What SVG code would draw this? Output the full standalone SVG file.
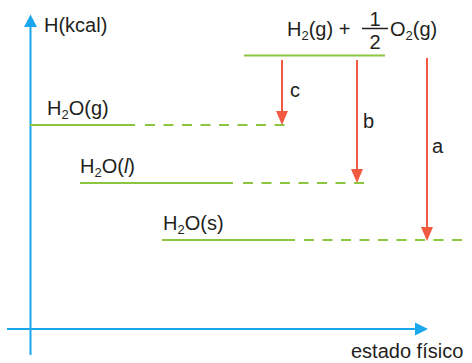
<svg xmlns="http://www.w3.org/2000/svg" width="472" height="363" viewBox="0 0 472 363">
<style>
text{font-family:"Liberation Sans",Arial,sans-serif;fill:#231f20;font-size:20px}
.sub{font-size:13px}
.axis{stroke:#1aa7ec;stroke-width:2;fill:none}
.lvl{stroke:#8cc63f;stroke-width:2;fill:none}
.dash{stroke:#8cc63f;stroke-width:2;fill:none;stroke-dasharray:10 8.5}
.arr{stroke:#f15a40;stroke-width:2;fill:none}
.head{fill:#f15a40}
</style>
<g id="axes">
<line class="axis" x1="30.5" y1="355" x2="30.5" y2="26"/>
<path d="M24,27 L37,27 L30.5,14.5 Z" fill="#1aa7ec"/>
<line class="axis" x1="7" y1="329" x2="416" y2="329"/>
<path d="M415,322.5 L415,335.5 L428,329 Z" fill="#1aa7ec"/>
<text x="44" y="32">H(kcal)</text>
<text x="351" y="358">estado físico</text>
</g>
<g id="reactants">
<line class="lvl" x1="244" y1="55.5" x2="385" y2="55.5"/>
<text x="287" y="36">H<tspan class="sub" dy="4">2</tspan><tspan dy="-4">(g) +</tspan></text>
<text x="375" y="25.5" font-size="18" text-anchor="middle">1</text>
<line x1="362" y1="28.5" x2="388" y2="28.5" stroke="#231f20" stroke-width="1.5"/>
<text x="375" y="48.5" font-size="18" text-anchor="middle">2</text>
<text x="390" y="36">O<tspan class="sub" dy="4">2</tspan><tspan dy="-4">(g)</tspan></text>
</g>
<g id="h2o-g">
<line class="lvl" x1="30" y1="125" x2="135" y2="125"/>
<line class="dash" x1="145" y1="125" x2="288" y2="125"/>
<text x="47" y="115">H<tspan class="sub" dy="4">2</tspan><tspan dy="-4">O(g)</tspan></text>
</g>
<g id="h2o-l">
<line class="lvl" x1="80" y1="183" x2="233" y2="183"/>
<line class="dash" x1="243" y1="183" x2="364" y2="183"/>
<text x="80" y="173">H<tspan class="sub" dy="4">2</tspan><tspan dy="-4">O(</tspan><tspan font-style="italic">l</tspan>)</text>
</g>
<g id="h2o-s">
<line class="lvl" x1="162" y1="240" x2="295" y2="240"/>
<line class="dash" x1="304" y1="240" x2="468" y2="240"/>
<text x="163" y="230">H<tspan class="sub" dy="4">2</tspan><tspan dy="-4">O(s)</tspan></text>
</g>
<g id="connectors">
<line class="arr" x1="282" y1="60" x2="282" y2="112"/>
<path class="head" d="M276,111 L288,111 L282,125 Z"/>
<line class="arr" x1="357" y1="60" x2="357" y2="170"/>
<path class="head" d="M351,169 L363,169 L357,183 Z"/>
<line class="arr" x1="427" y1="58" x2="427" y2="228"/>
<path class="head" d="M421,227 L433,227 L427,241 Z"/>
<text x="290" y="97">c</text>
<text x="363" y="128">b</text>
<text x="432" y="153">a</text>
</g>
</svg>
